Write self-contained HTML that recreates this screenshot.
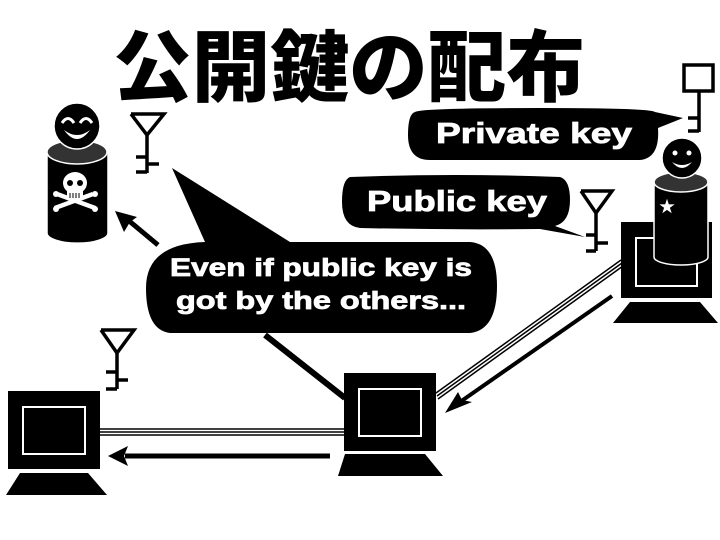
<!DOCTYPE html>
<html><head><meta charset="utf-8"><style>
html,body{margin:0;padding:0;background:#fff;}
svg{display:block;}
text{font-family:"Liberation Sans","Noto Sans CJK JP",sans-serif;font-weight:bold;}
</style></head><body>
<svg width="720" height="540" viewBox="0 0 720 540" xmlns="http://www.w3.org/2000/svg">
<rect width="720" height="540" fill="#fff"/>
<text x="113" y="95" font-size="78" font-weight="900" textLength="472" lengthAdjust="spacingAndGlyphs" fill="#000" style="font-family:'Noto Sans CJK JP',sans-serif;font-weight:900">公開鍵の配布</text>

<g stroke="#000" fill="none">
  <line x1="100" y1="429" x2="344" y2="429" stroke-width="1.5"/>
  <line x1="100" y1="432" x2="344" y2="432" stroke-width="1.5"/>
  <line x1="100" y1="435" x2="344" y2="435" stroke-width="1.5"/>
  <line x1="436" y1="393" x2="621" y2="260" stroke-width="1.5"/>
  <line x1="437" y1="396" x2="622" y2="263" stroke-width="1.5"/>
  <line x1="438" y1="399" x2="623" y2="266" stroke-width="1.5"/>
  <line x1="330" y1="456" x2="125" y2="456" stroke-width="5"/>
  <line x1="612" y1="296" x2="460" y2="402" stroke-width="4"/>
  <line x1="345" y1="398" x2="265" y2="335" stroke-width="6"/>
  <line x1="158" y1="245" x2="128" y2="220" stroke-width="5"/>
</g>
<polygon points="108,456 128,446 124,456 128,466" fill="#000"/>
<polygon points="445,413 458,392 462,400 472,402" fill="#000"/>
<polygon points="115,211 137,217 130,222 124,232" fill="#000"/>

<g>
  <rect x="8" y="391" width="92" height="78" fill="#000"/>
  <rect x="23" y="407" width="62" height="47" fill="#000" stroke="#fff" stroke-width="2"/>
  <polygon points="20,473 88,473 107,495 6,495" fill="#000"/>
  <rect x="344" y="373" width="92" height="78" fill="#000"/>
  <rect x="359" y="389" width="62" height="47" fill="#000" stroke="#fff" stroke-width="2"/>
  <polygon points="345,454 425,454 443,476 338,476" fill="#000"/>
  <rect x="621" y="222" width="91" height="76" fill="#000"/>
  <rect x="636" y="238" width="61" height="48" fill="#000" stroke="#fff" stroke-width="2"/>
  <polygon points="630,302 700,302 718,323 613,323" fill="#000"/>
</g>

<g stroke="#fff" stroke-width="1.5">
  <path d="M654,182 L654,257 A27,8 0 0 0 708,257 L708,182 Z" fill="#000"/>
  <ellipse cx="681" cy="182" rx="27" ry="10" fill="#333"/>
</g>
<circle cx="682" cy="158" r="20" fill="#000" stroke="#fff" stroke-width="1.5"/>
<circle cx="675" cy="153" r="2.5" fill="#fff"/><circle cx="689" cy="153" r="2.5" fill="#fff"/>
<path d="M672,162 Q682,174 692,162 Q682,168 672,162Z" fill="#fff"/>
<text x="667" y="212" font-size="16" fill="#fff" text-anchor="middle">★</text>

<g stroke="#fff" stroke-width="1.5">
  <path d="M47,152 L47,233 A30,10 0 0 0 108,233 L108,152 Z" fill="#000"/>
  <ellipse cx="77" cy="152" rx="30" ry="12" fill="#333"/>
</g>
<circle cx="77" cy="126" r="23" fill="#000" stroke="#fff" stroke-width="1.5"/>
<path d="M62,123 Q68,114 74,123" stroke="#fff" stroke-width="3" fill="none"/>
<path d="M80,123 Q86,114 92,123" stroke="#fff" stroke-width="3" fill="none"/>
<path d="M64,130 Q77,148 90,130 Q77,140 64,130Z" fill="#fff"/>
<!-- skull -->
<g fill="#fff">
  <ellipse cx="75" cy="183" rx="12" ry="11"/>
  <rect x="67" y="188" width="16" height="10"/>
  <path d="M56,196 L94,210 L96,206 L58,192Z"/>
  <path d="M56,210 L94,196 L92,192 L54,206Z"/>
  <circle cx="56" cy="194" r="3"/><circle cx="56" cy="209" r="3"/>
  <circle cx="95" cy="194" r="3"/><circle cx="95" cy="209" r="3"/>
</g>
<circle cx="70" cy="183" r="3" fill="#000"/><circle cx="80" cy="183" r="3" fill="#000"/>
<g stroke="#000" stroke-width="1"><line x1="70" y1="193" x2="70" y2="198"/><line x1="73" y1="193" x2="73" y2="198"/><line x1="76" y1="193" x2="76" y2="198"/><line x1="79" y1="193" x2="79" y2="198"/></g>

<g stroke="#000" stroke-width="3.5" fill="none">
  <polyline points="131,114 164,114 147,135 131,114"/>
  <line x1="147" y1="135" x2="147" y2="173"/>
  <line x1="136" y1="157" x2="147" y2="157"/><line x1="147" y1="164" x2="159" y2="164"/>
  <line x1="136" y1="172" x2="147" y2="172"/>

  <polyline points="101,330 134,330 117,353 101,330"/>
  <line x1="117" y1="353" x2="117" y2="389"/>
  <line x1="106" y1="372" x2="117" y2="372"/><line x1="117" y1="380" x2="128" y2="380"/>
  <line x1="106" y1="389" x2="117" y2="389"/>

  <polyline points="581,191 612,191 596,213 581,191"/>
  <line x1="596" y1="213" x2="596" y2="251"/>
  <line x1="586" y1="235" x2="596" y2="235"/><line x1="596" y1="243" x2="608" y2="243"/>
  <line x1="586" y1="251" x2="596" y2="251"/>

  <rect x="684" y="65" width="29" height="26"/>
  <line x1="699" y1="91" x2="699" y2="132"/>
  <line x1="688" y1="118" x2="699" y2="118"/><line x1="688" y1="131" x2="699" y2="131"/>
</g>

<path d="M415,112 Q420,108 540,108 Q650,108 655,112 L683,118 L658,128 Q660,158 640,160 L430,160 Q408,160 408,135 Q408,114 415,112Z" fill="#000"/>
<text x="534" y="143" font-size="29" fill="#fff" stroke="#fff" stroke-width="0.8" text-anchor="middle" textLength="196" lengthAdjust="spacingAndGlyphs">Private key</text>

<path d="M350,177 Q455,173 560,177 Q570,180 570,200 Q570,222 555,226 L585,237 L540,229 Q450,230 360,228 Q342,226 342,202 Q342,180 350,177Z" fill="#000"/>
<text x="457" y="211" font-size="29" fill="#fff" stroke="#fff" stroke-width="0.8" text-anchor="middle" textLength="180" lengthAdjust="spacingAndGlyphs">Public key</text>

<path d="M172,168 L290,242 L470,242 Q497,244 497,286 Q497,330 470,333 L170,333 Q146,330 146,288 Q146,244 205,242 Z" fill="#000"/>
<text x="321" y="276" font-size="25" fill="#fff" stroke="#fff" stroke-width="0.8" text-anchor="middle" textLength="302" lengthAdjust="spacingAndGlyphs">Even if public key is</text>
<text x="321" y="309" font-size="25" fill="#fff" stroke="#fff" stroke-width="0.8" text-anchor="middle" textLength="290" lengthAdjust="spacingAndGlyphs">got by the others...</text>
</svg>
</body></html>
